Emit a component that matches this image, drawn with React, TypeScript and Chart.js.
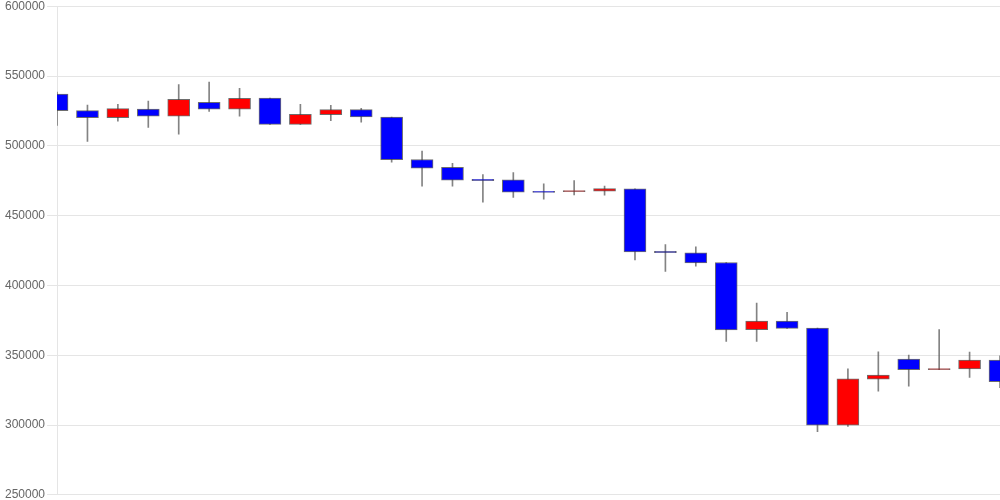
import React, { useEffect, useRef } from "react";
import { Chart, registerables } from "chart.js";

Chart.register(...registerables);

const labels: string[] = Array.from({ length: 32 }, (_, i) => String(i + 1));
const opens: number[] = [537000, 525200, 520200, 526300, 521300, 531100, 526300, 534200, 515400, 522300, 525900, 520600, 490200, 484500, 476000, 475700, 467400, 467200, 467500, 469200, 424400, 423300, 416400, 368300, 374500, 369500, 299900, 332900, 347300, 339700, 340100, 346500];
const highs: number[] = [538500, 529200, 529700, 532000, 543800, 545700, 541200, 534200, 529700, 529000, 526800, 520600, 496200, 487400, 479300, 480900, 472800, 475000, 471100, 469200, 429300, 427600, 416400, 387400, 380700, 369500, 340300, 352500, 350100, 368300, 352300, 349600];
const lows: number[] = [514600, 503200, 517700, 513200, 508400, 524700, 521300, 515400, 515400, 518000, 517000, 488300, 471100, 471100, 459600, 463000, 461800, 464900, 464600, 418300, 410100, 413700, 359900, 359900, 369200, 295300, 298900, 324300, 327900, 339600, 334100, 326800];
const closes: number[] = [525200, 520200, 526600, 521300, 533300, 526300, 534000, 515400, 522500, 525900, 520600, 490000, 484000, 475400, 475100, 466800, 466600, 468000, 469400, 424000, 423500, 416100, 368100, 374500, 369200, 299900, 333100, 335800, 339600, 340500, 346500, 331000];

export default function App() {
  const ref = useRef<HTMLCanvasElement | null>(null);
  useEffect(() => {
    if (!ref.current) return;
    const bodies = opens.map((o, i) => [o, closes[i]]);
    const wicks = lows.map((l, i) => [l, highs[i]]);
    const colors = opens.map((o, i) => (closes[i] >= o ? "#ff0000" : "#0000ff"));
    const chart = new Chart(ref.current, {
      type: "bar",
      data: {
        labels,
        datasets: [
          {
            data: bodies as any,
            backgroundColor: colors,
            borderColor: "rgba(60,60,60,0.75)",
            borderWidth: 1,
            borderSkipped: false,
            barThickness: 22,
            grouped: false,
            order: 0,
          } as any,
          {
            data: wicks as any,
            backgroundColor: "rgba(90,90,90,0.75)",
            borderWidth: 0,
            barThickness: 1,
            grouped: false,
            order: 1,
          } as any,
        ],
      },
      options: {
        responsive: false,
        animation: false,
        plugins: { legend: { display: false }, tooltip: { enabled: false } },
        layout: { padding: { top: 0, bottom: 0, left: 3, right: 0 } },
        scales: {
          x: { display: false, offset: false },
          y: {
            min: 250000,
            max: 600000,
            ticks: {
              stepSize: 50000,
              color: "#666",
              padding: 2,
              callback: (v: any) => String(v),
              font: { family: "'Liberation Sans', Arial, sans-serif", size: 12 },
            },
            grid: { color: "rgba(0,0,0,0.1)", tickLength: 10 },
            border: { display: true, color: "rgba(0,0,0,0.1)" },
          },
        },
      },
    });
    return () => chart.destroy();
  }, []);
  return (
    <div style={{ position: "absolute", left: 0, top: 0, width: 1000, height: 500, overflow: "hidden" }}>
      <canvas ref={ref} width={1000} height={507} style={{ display: "block", position: "absolute", left: 0, top: -3 }} />
    </div>
  );
}
